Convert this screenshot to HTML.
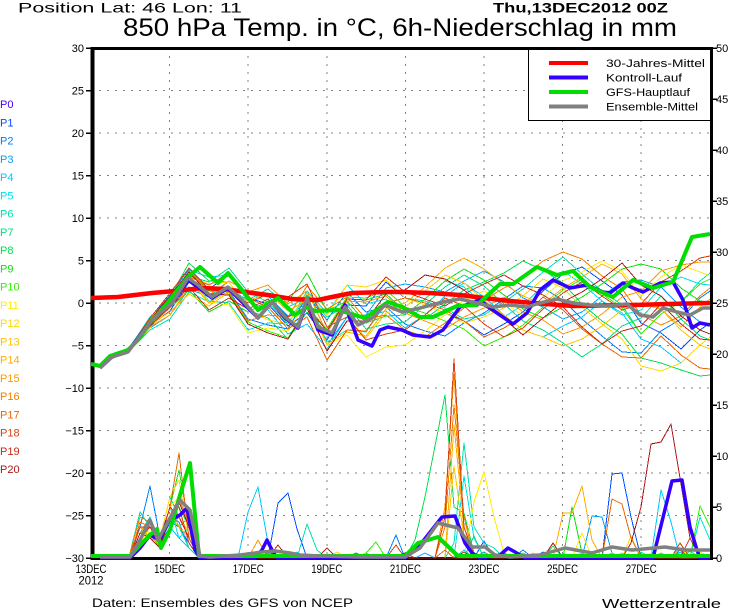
<!DOCTYPE html>
<html><head><meta charset="utf-8"><style>
html,body{margin:0;padding:0;background:#fff;}
svg{display:block;}
text{font-family:"Liberation Sans",sans-serif;}
</style></head><body>
<svg xmlns="http://www.w3.org/2000/svg" width="730" height="609" viewBox="0 0 730 609">
<rect width="730" height="609" fill="#fff"/>
<defs><clipPath id="c"><rect x="91" y="46" width="621" height="514"/></clipPath></defs>

<!-- grid -->
<g stroke="#808080" stroke-width="1" stroke-dasharray="2,6" shape-rendering="crispEdges" fill="none">
<line x1="91" y1="90.5" x2="710" y2="90.5"/><line x1="91" y1="133" x2="710" y2="133"/>
<line x1="91" y1="175.5" x2="710" y2="175.5"/><line x1="91" y1="218" x2="710" y2="218"/>
<line x1="91" y1="260.5" x2="710" y2="260.5"/><line x1="91" y1="303" x2="710" y2="303"/>
<line x1="91" y1="345.5" x2="710" y2="345.5"/><line x1="91" y1="388" x2="710" y2="388"/>
<line x1="91" y1="430.5" x2="710" y2="430.5"/><line x1="91" y1="473" x2="710" y2="473"/>
<line x1="91" y1="515.5" x2="710" y2="515.5"/>
<line x1="169.6" y1="48" x2="169.6" y2="558"/><line x1="248.2" y1="48" x2="248.2" y2="558"/>
<line x1="326.8" y1="48" x2="326.8" y2="558"/><line x1="405.4" y1="48" x2="405.4" y2="558"/>
<line x1="484" y1="48" x2="484" y2="558"/><line x1="562.6" y1="48" x2="562.6" y2="558"/>
<line x1="641.2" y1="48" x2="641.2" y2="558"/>
</g>

<!-- frame -->
<g stroke="#000" fill="none">
<line x1="92.5" y1="47" x2="92.5" y2="560" stroke-width="4"/>
<line x1="90.5" y1="48.5" x2="713" y2="48.5" stroke-width="3"/>
<line x1="711.5" y1="47" x2="711.5" y2="560" stroke-width="3"/>
<line x1="90.5" y1="558.5" x2="713" y2="558.5" stroke-width="3"/>
</g>
<g stroke="#000" stroke-width="1.5" shape-rendering="crispEdges">
<line x1="86" y1="48" x2="91" y2="48"/><line x1="86" y1="90.5" x2="91" y2="90.5"/><line x1="86" y1="133" x2="91" y2="133"/>
<line x1="86" y1="175.5" x2="91" y2="175.5"/><line x1="86" y1="218" x2="91" y2="218"/><line x1="86" y1="260.5" x2="91" y2="260.5"/>
<line x1="86" y1="303" x2="91" y2="303"/><line x1="86" y1="345.5" x2="91" y2="345.5"/><line x1="86" y1="388" x2="91" y2="388"/>
<line x1="86" y1="430.5" x2="91" y2="430.5"/><line x1="86" y1="473" x2="91" y2="473"/><line x1="86" y1="515.5" x2="91" y2="515.5"/>
<line x1="86" y1="558" x2="91" y2="558"/>
<line x1="713" y1="48" x2="717" y2="48"/><line x1="713" y1="99" x2="717" y2="99"/><line x1="713" y1="150" x2="717" y2="150"/>
<line x1="713" y1="201" x2="717" y2="201"/><line x1="713" y1="252" x2="717" y2="252"/><line x1="713" y1="303" x2="717" y2="303"/>
<line x1="713" y1="354" x2="717" y2="354"/><line x1="713" y1="405" x2="717" y2="405"/><line x1="713" y1="456" x2="717" y2="456"/>
<line x1="713" y1="507" x2="717" y2="507"/><line x1="713" y1="558" x2="717" y2="558"/>
</g>

<!-- data -->
<g clip-path="url(#c)" fill="none" stroke-width="1" stroke-linejoin="round" shape-rendering="crispEdges">
<!-- temperature members (x at 12h steps) -->
<polyline stroke="#0050ff" points="100,368 111,358 130,348 150,326 170,311 189,282 209,289 229,275 248,298 268,304 288,326 307,313 327,340 347,305 366,306 386,282 405,298 425,305 445,313 464,321 484,335 504,324 523,312 543,291 563,274 582,267 602,281 622,295 641,323 661,333 681,349 700,330 710,323"/>
<polyline stroke="#0080ff" points="100,368 111,358 130,349 150,319 170,295 189,269 209,290 229,291 248,319 268,325 288,329 307,296 327,320 347,292 366,312 386,307 405,324 425,331 445,336 464,323 484,313 504,299 523,286 543,288 563,300 582,319 602,336 622,352 641,353 661,331 681,319 700,298 710,291"/>
<polyline stroke="#00a0ff" points="100,368 111,358 130,350 150,328 170,315 189,289 209,297 229,281 248,292 268,296 288,316 307,303 327,345 347,317 366,315 386,288 405,284 425,287 445,292 464,281 484,271 504,282 523,298 543,307 563,319 582,312 602,296 622,282 641,280 661,287 681,307 700,322 710,325"/>
<polyline stroke="#00c8ff" points="100,368 111,359 130,351 150,325 170,303 189,270 209,277 229,275 248,301 268,310 288,334 307,324 327,349 347,317 366,317 386,311 405,328 425,315 445,296 464,283 484,297 504,315 523,330 543,337 563,326 582,317 602,301 622,313 641,339 661,347 681,363 700,345 710,337"/>
<polyline stroke="#00e0e8" points="100,368 111,358 130,347 150,317 170,299 189,277 209,301 229,303 248,330 268,323 288,324 307,291 327,313 347,285 366,304 386,299 405,315 425,299 445,281 464,287 484,304 504,317 523,305 543,286 563,271 582,284 602,301 622,315 641,310 661,287 681,277 700,284 710,285"/>
<polyline stroke="#00e0b0" points="100,368 111,358 130,350 150,330 170,319 189,292 209,302 229,289 248,300 268,289 288,307 307,298 327,342 347,330 366,332 386,303 405,298 425,301 445,308 464,319 484,315 504,302 523,289 543,272 563,257 582,274 602,291 622,305 641,334 661,314 681,302 700,281 710,273"/>
<polyline stroke="#00e080" points="100,368 111,357 130,347 150,321 170,307 189,276 209,282 229,268 248,292 268,302 288,324 307,295 327,317 347,305 366,329 386,324 405,322 425,305 445,287 464,275 484,286 504,304 523,321 543,330 563,343 582,357 602,344 622,326 641,318 661,296 681,319 700,336 710,340"/>
<polyline stroke="#00e050" points="100,368 111,359 130,349 150,321 170,297 189,263 209,281 229,282 248,310 268,318 288,339 307,312 327,333 347,299 366,300 386,294 405,311 425,319 445,304 464,290 484,282 504,273 523,261 543,270 563,283 582,304 602,321 622,334 641,358 661,363 681,370 700,376 710,375"/>
<polyline stroke="#10e010" points="100,368 111,358 130,348 150,322 170,308 189,290 209,312 229,301 248,312 268,301 288,302 307,273 327,311 347,301 366,323 386,316 405,315 425,299 445,281 464,269 484,280 504,295 523,309 543,318 563,307 582,297 602,284 622,269 641,264 661,269 681,288 700,301 710,302"/>
<polyline stroke="#30f000" points="100,368 111,358 130,351 150,326 170,305 189,272 209,291 229,294 248,322 268,331 288,338 307,307 327,329 347,297 366,298 386,290 405,307 425,313 445,321 464,329 484,346 504,337 523,325 543,307 563,290 582,279 602,294 622,308 641,334 661,314 681,302 700,284 710,279"/>
<polyline stroke="#ffee00" points="100,368 111,358 130,348 150,318 170,300 189,279 209,302 229,305 248,333 268,328 288,331 307,301 327,345 347,335 366,357 386,347 405,345 425,331 445,315 464,300 484,291 504,302 523,316 543,297 563,281 582,272 602,261 622,271 641,296 661,277 681,265 700,272 710,276"/>
<polyline stroke="#ffd800" points="100,368 111,358 130,350 150,328 170,308 189,277 209,284 229,282 248,310 268,320 288,324 307,293 327,315 347,285 366,287 386,280 405,298 425,305 445,313 464,323 484,317 504,308 523,296 543,279 563,288 582,307 602,324 622,339 641,366 661,371 681,363 700,345 710,337"/>
<polyline stroke="#ffc400" points="100,368 111,358 130,349 150,325 170,312 189,294 209,306 229,292 248,303 268,294 288,297 307,284 327,327 347,317 366,338 386,313 405,307 425,291 445,275 464,283 484,300 504,315 523,330 543,337 563,346 582,339 602,326 622,310 641,304 661,309 681,330 700,345 710,349"/>
<polyline stroke="#ffae00" points="100,368 111,358 130,348 150,319 170,302 189,281 209,303 229,291 248,301 268,293 288,311 307,300 327,344 347,332 366,336 386,309 405,303 425,287 445,268 464,258 484,269 504,284 523,296 543,304 563,288 582,277 602,264 622,274 641,299 661,309 681,327 700,307 710,299"/>
<polyline stroke="#ff9800" points="100,368 111,358 130,349 150,327 170,315 189,287 209,295 229,281 248,292 268,285 288,304 307,291 327,333 347,301 366,302 386,296 405,313 425,321 445,329 464,317 484,308 504,297 523,312 543,320 563,334 582,327 602,314 622,297 641,291 661,271 681,265 700,262 710,262"/>
<polyline stroke="#f08000" points="100,368 111,359 130,351 150,325 170,303 189,271 209,290 229,292 248,321 268,315 288,317 307,286 327,309 347,297 366,319 386,315 405,330 425,337 445,323 464,308 484,300 504,288 523,277 543,261 563,252 582,259 602,276 622,289 641,315 661,325 681,316 700,296 710,288"/>
<polyline stroke="#e86800" points="100,368 111,358 130,347 150,322 170,307 189,277 209,285 229,273 248,298 268,307 288,329 307,317 327,360 347,330 366,331 386,303 405,298 425,303 445,310 464,321 484,337 504,328 523,316 543,297 563,310 582,329 602,344 622,357 641,358 661,336 681,355 700,368 710,369"/>
<polyline stroke="#d84010" points="100,368 111,358 130,348 150,318 170,293 189,268 209,289 229,291 248,303 268,294 288,297 307,284 327,327 347,317 366,340 386,334 405,330 425,315 445,298 464,306 484,324 504,337 523,328 543,309 563,293 582,282 602,296 622,310 641,304 661,282 681,271 700,258 710,256"/>
<polyline stroke="#c82818" points="100,368 111,358 130,349 150,326 170,307 189,287 209,310 229,298 248,309 268,299 288,317 307,307 327,331 347,299 366,300 386,277 405,292 425,299 445,306 464,294 484,284 504,275 523,286 543,295 563,307 582,327 602,344 622,331 641,326 661,304 681,324 700,339 710,340"/>
<polyline stroke="#b01818" points="100,368 111,358 130,349 150,320 170,296 189,272 209,294 229,295 248,324 268,333 288,339 307,308 327,351 347,321 366,321 386,294 405,290 425,275 445,279 464,290 484,306 504,319 523,335 543,318 563,302 582,292 602,279 622,263 641,285 661,296 681,316 700,330 710,334"/>

<!-- precipitation members -->
<polyline stroke="#0050ff" points="130,558 140,533 150,519 160,543 170,522 179,527 189,543 199,558 268,558 278,503 288,493 297,529 307,558 346,558 356,553 366,558 474,558 484,541 494,558 533,558 543,552 553,558 602,558 612,474 622,473 631,517 641,558 670,558 680,550 690,558 710,558"/>
<polyline stroke="#0080ff" points="130,553 140,527 150,486 160,538 170,517 179,522 189,548 199,558 248,558 258,554 268,558 386,558 396,535 405,558 513,558 523,550 533,558 670,558 680,548 690,558 710,558"/>
<polyline stroke="#00a0ff" points="130,558 140,538 150,527 160,543 170,527 179,517 189,538 199,558 415,558 425,553 435,558 474,558 484,552 494,558 582,558 592,516 602,517 612,553 622,558 670,558 680,552 690,558 710,558"/>
<polyline stroke="#00c8ff" points="130,558 140,527 150,533 160,548 170,527 179,538 189,548 199,558 238,558 248,512 258,487 268,543 278,558 454,558 464,550 474,558 602,558 612,553 622,558 651,558 661,490 671,522 680,558 710,558"/>
<polyline stroke="#00e0e8" points="130,558 140,533 150,517 160,543 170,507 179,538 189,527 199,558 288,558 297,552 307,558 454,558 464,476 474,538 484,558 533,558 543,553 553,558 690,558 700,517 710,540"/>
<polyline stroke="#00e0b0" points="130,553 140,512 150,527 160,543 170,517 179,527 189,548 199,558 297,558 307,524 317,550 327,558 445,558 454,543 464,443 474,527 484,543 494,548 504,558 572,558 582,553 592,558 631,558 641,552 651,558 710,558"/>
<polyline stroke="#00e080" points="130,558 140,538 150,522 160,538 170,497 179,517 189,538 199,558 396,558 405,553 415,558 464,558 474,536 484,558 543,558 553,546 563,558 680,558 690,551 700,558 710,558"/>
<polyline stroke="#00e050" points="130,558 140,527 150,538 160,543 170,517 179,507 189,527 199,558 288,558 297,553 307,558 405,558 415,540 425,497 435,446 445,395 454,507 464,513 474,553 484,558 612,558 622,553 631,558 710,558"/>
<polyline stroke="#10e010" points="130,558 140,533 150,527 160,538 170,507 179,470 189,527 199,558 356,558 366,553 376,558 513,558 523,553 533,558 563,558 572,507 582,553 592,558 710,558"/>
<polyline stroke="#30f000" points="130,558 140,538 150,533 160,548 170,517 179,527 189,517 199,558 356,558 366,553 376,542 386,558 690,558 700,506 710,527"/>
<polyline stroke="#ffee00" points="130,558 140,543 150,527 160,543 170,507 179,497 189,527 199,558 327,558 337,552 346,558 464,558 474,502 484,472 494,517 504,553 513,558 572,558 582,533 592,558 641,558 651,553 661,558 710,558"/>
<polyline stroke="#ffd800" points="130,558 140,538 150,527 160,538 170,497 179,480 189,538 199,558 327,558 337,552 346,558 622,558 631,536 641,558 671,558 680,548 690,558 710,558"/>
<polyline stroke="#ffc400" points="130,558 140,527 150,533 160,543 170,517 179,517 189,533 199,558 445,558 454,466 464,538 474,558 523,558 533,553 543,558 690,558 700,552 710,558"/>
<polyline stroke="#ffae00" points="130,558 140,533 150,527 160,548 170,517 179,502 189,517 199,558 445,558 454,425 464,527 474,558 553,558 563,513 572,513 582,486 592,540 602,558 710,558"/>
<polyline stroke="#ff9800" points="130,558 140,527 150,538 160,543 170,507 179,527 189,538 199,558 248,558 258,540 268,558 435,558 445,507 454,374 464,538 474,558 612,558 622,553 631,558 710,558"/>
<polyline stroke="#f08000" points="130,553 140,517 150,522 160,538 170,517 179,497 189,527 199,558 278,558 288,552 297,558 435,558 445,527 454,405 464,517 474,558 651,558 661,553 671,558 710,558"/>
<polyline stroke="#e86800" points="130,558 140,522 150,527 160,538 170,507 179,453 189,538 199,558 435,558 445,550 454,558 484,558 494,553 504,558 602,558 612,499 622,504 631,538 641,558 710,558"/>
<polyline stroke="#d84010" points="130,558 140,527 150,527 160,543 170,517 179,507 189,543 199,558 258,558 268,553 278,558 386,558 396,545 405,558 435,558 445,517 454,359 464,527 474,555 484,558 671,558 680,543 690,558 710,558"/>
<polyline stroke="#c82818" points="130,558 140,538 150,527 160,538 170,507 179,517 189,538 199,558 268,558 278,545 288,558 317,558 327,548 337,558 494,558 504,553 513,558 543,558 553,543 563,558 680,558 690,538 700,558 710,558"/>
<polyline stroke="#b01818" points="130,558 140,533 150,538 160,548 170,517 179,502 189,527 199,558 396,558 405,553 415,558 454,558 464,552 474,558 622,558 631,543 641,507 651,444 661,442 671,424 680,478 690,538 700,558 710,558"/>
</g>

<!-- thick lines -->
<g clip-path="url(#c)" fill="none" stroke-linejoin="round">
<polyline stroke="#ff0000" stroke-width="4.5" points="91,298 118,297 152,293 175,291 202,288 225,289 245,292 268,295 292,299 318,300 332,297 352,293 385,292 402,292 430,293 460,295 500,300 533,303 573,306 633,305 667,304 710,303"/>
<polyline stroke="#3300ff" stroke-width="3.5" points="100,368 112,357 128,351 152,320 172,303 188,280 198,287 212,298 228,288 242,302 258,318 272,302 285,318 298,328 307,300 318,330 332,335 345,305 358,340 372,346 380,330 388,327 402,330 413,335 430,337 443,330 460,307 480,300 497,313 513,324 527,313 540,290 553,280 570,288 587,285 603,292 610,293 623,283 633,288 643,292 660,283 673,282 683,300 692,328 700,323 710,325"/>
<polyline stroke="#3300ff" stroke-width="3.5" points="100,558 130,558 140,548 150,535 160,540 167,522 180,515 187,508 195,550 200,558 255,558 262,550 267,540 272,550 277,558 405,558 420,545 442,517 455,516 465,543 472,553 480,558 500,555 508,548 515,552 525,558 653,558 672,481 682,480 690,527 697,550 700,558 710,558"/>
<polyline stroke="#00dd00" stroke-width="4" points="91,364 100,366 110,356 128,350 140,338 150,322 162,310 175,293 188,277 200,267 218,283 228,273 242,290 258,310 278,298 295,315 307,307 315,311 338,310 365,318 388,302 402,307 420,317 433,317 457,306 477,305 500,284 513,284 537,267 557,275 573,271 590,287 613,297 633,280 653,288 673,282 692,237 710,234"/>
<polyline stroke="#00dd00" stroke-width="4" points="91,556 130,556 140,545 150,535 157,529 161,548 170,530 180,495 190,463 199,556 405,556 418,543 438,537 458,556 710,556"/>
<polyline stroke="#808080" stroke-width="3.5" points="100,368 112,357 128,352 152,320 172,303 188,278 198,285 212,297 228,287 242,300 258,318 272,302 285,317 298,327 307,298 318,327 332,333 345,307 358,325 372,318 385,305 402,312 420,308 443,302 460,299 477,303 493,307 510,305 527,307 540,303 557,299 573,303 590,305 607,306 627,304 640,315 653,317 663,308 677,312 690,315 703,308 710,308"/>
<polyline stroke="#808080" stroke-width="3.5" points="100,557 130,557 140,540 150,520 158,540 170,518 180,500 190,510 200,556 210,557 240,555 262,552 275,551 290,553 300,555 320,556 360,557 405,557 420,548 438,523 458,528 472,547 485,547 495,555 510,557 540,555 565,548 592,553 612,547 632,550 665,547 685,550 710,550"/>
</g>

<!-- legend -->
<rect x="528.5" y="48.5" width="182" height="72" fill="#fff" stroke="#000" stroke-width="1"/>
<line x1="711.5" y1="47" x2="711.5" y2="122" stroke="#000" stroke-width="3"/>
<line x1="528" y1="48.5" x2="713" y2="48.5" stroke="#000" stroke-width="3"/>
<g stroke-width="4">
<line x1="549" y1="63" x2="588" y2="63" stroke="#ff0000"/>
<line x1="549" y1="77.5" x2="588" y2="77.5" stroke="#3300ff"/>
<line x1="549" y1="92" x2="588" y2="92" stroke="#00dd00"/>
<line x1="549" y1="106.5" x2="588" y2="106.5" stroke="#808080"/>
</g>
<g font-size="11" fill="#000">
<text x="606" y="67" textLength="99" lengthAdjust="spacingAndGlyphs">30-Jahres-Mittel</text>
<text x="606" y="81.5" textLength="76" lengthAdjust="spacingAndGlyphs">Kontroll-Lauf</text>
<text x="606" y="96" textLength="84" lengthAdjust="spacingAndGlyphs">GFS-Hauptlauf</text>
<text x="606" y="110.5" textLength="92" lengthAdjust="spacingAndGlyphs">Ensemble-Mittel</text>
</g>

<!-- titles -->
<text x="18" y="12.5" font-size="14" fill="#000" textLength="224" lengthAdjust="spacingAndGlyphs">Position  Lat: 46 Lon: 11</text>
<text x="493" y="12.5" font-size="14" font-weight="bold" fill="#000" textLength="175" lengthAdjust="spacingAndGlyphs">Thu,13DEC2012 00Z</text>
<text x="123" y="36" font-size="25" fill="#000" textLength="554" lengthAdjust="spacingAndGlyphs">850 hPa Temp. in °C, 6h-Niederschlag in mm</text>

<g font-size="11" text-anchor="end" fill="#000">
<text x="84" y="52">30</text><text x="84" y="94.5">25</text><text x="84" y="137">20</text>
<text x="84" y="179.5">15</text><text x="84" y="222">10</text><text x="84" y="264.5">5</text>
<text x="84" y="307">0</text><text x="84" y="349.5">−5</text><text x="84" y="392">−10</text>
<text x="84" y="434.5">−15</text><text x="84" y="477">−20</text><text x="84" y="519.5">−25</text>
<text x="84" y="562">−30</text>
</g>
<g font-size="11" fill="#000">
<text x="716" y="52">50</text><text x="716" y="103">45</text><text x="716" y="154">40</text>
<text x="716" y="205">35</text><text x="716" y="256">30</text><text x="716" y="307">25</text>
<text x="716" y="358">20</text><text x="716" y="409">15</text><text x="716" y="460">10</text>
<text x="716" y="511">5</text><text x="716" y="562">0</text>
</g>
<g font-size="11.5" text-anchor="middle" fill="#000">
<text x="91" y="573" textLength="31" lengthAdjust="spacingAndGlyphs">13DEC</text>
<text x="91" y="584.5" textLength="25" lengthAdjust="spacingAndGlyphs">2012</text>
<text x="169.6" y="573" textLength="31" lengthAdjust="spacingAndGlyphs">15DEC</text>
<text x="248.2" y="573" textLength="31" lengthAdjust="spacingAndGlyphs">17DEC</text>
<text x="326.8" y="573" textLength="31" lengthAdjust="spacingAndGlyphs">19DEC</text>
<text x="405.4" y="573" textLength="31" lengthAdjust="spacingAndGlyphs">21DEC</text>
<text x="484" y="573" textLength="31" lengthAdjust="spacingAndGlyphs">23DEC</text>
<text x="562.6" y="573" textLength="31" lengthAdjust="spacingAndGlyphs">25DEC</text>
<text x="641.2" y="573" textLength="31" lengthAdjust="spacingAndGlyphs">27DEC</text>
</g>
<text x="92" y="607" font-size="12" fill="#000" textLength="261" lengthAdjust="spacingAndGlyphs">Daten: Ensembles des GFS von NCEP</text>
<text x="602" y="608" font-size="13" fill="#000" textLength="119" lengthAdjust="spacingAndGlyphs">Wetterzentrale</text>

<g font-size="11">
<text x="0" y="108" fill="#4400ff">P0</text>
<text x="0" y="126.25" fill="#0050ff">P1</text>
<text x="0" y="144.5" fill="#0080ff">P2</text>
<text x="0" y="162.75" fill="#00a0ff">P3</text>
<text x="0" y="181" fill="#00c8ff">P4</text>
<text x="0" y="199.25" fill="#00e0e8">P5</text>
<text x="0" y="217.5" fill="#00e0b0">P6</text>
<text x="0" y="235.75" fill="#00e080">P7</text>
<text x="0" y="254" fill="#00e050">P8</text>
<text x="0" y="272.25" fill="#10e010">P9</text>
<text x="0" y="290.5" fill="#30f000">P10</text>
<text x="0" y="308.75" fill="#ffee00">P11</text>
<text x="0" y="327" fill="#ffd800">P12</text>
<text x="0" y="345.25" fill="#ffc400">P13</text>
<text x="0" y="363.5" fill="#ffae00">P14</text>
<text x="0" y="381.75" fill="#ff9800">P15</text>
<text x="0" y="400" fill="#f08000">P16</text>
<text x="0" y="418.25" fill="#e86800">P17</text>
<text x="0" y="436.5" fill="#d84010">P18</text>
<text x="0" y="454.75" fill="#c82818">P19</text>
<text x="0" y="473" fill="#b01818">P20</text>
</g>
</svg>
</body></html>
